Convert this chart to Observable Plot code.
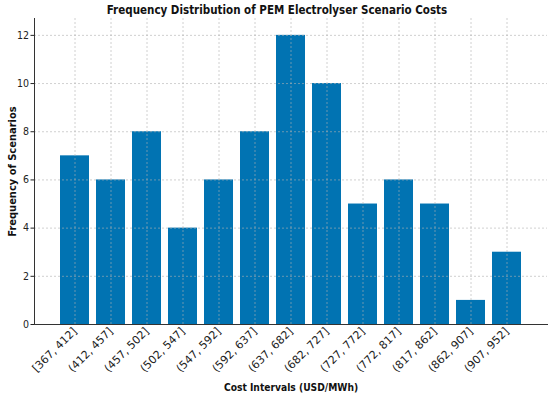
<!DOCTYPE html>
<html><head><meta charset="utf-8">
<script src="https://cdn.jsdelivr.net/npm/d3@7"></script>
<script src="https://cdn.jsdelivr.net/npm/@observablehq/plot@0.6"></script>
<style>
body{margin:0;background:#fff;}
svg{font-family:"DejaVu Sans Condensed","DejaVu Sans",sans-serif;}
</style>
</head><body><div id="chart"></div>
<script>
const intervals = ["[367, 412]","(412, 457]","(457, 502]","(502, 547]","(547, 592]","(592, 637]","(637, 682]","(682, 727]","(727, 772]","(772, 817]","(817, 862]","(862, 907]","(907, 952]"];
const counts = [7,6,8,4,6,8,12,10,5,6,5,1,3];
const yTicks = [0,2,4,6,8,10,12];
const data = intervals.map((k,i)=>({k, v: counts[i]}));

const chart = Plot.plot({
  width: 550, height: 394,
  marginLeft: 34, marginRight: 3, marginTop: 18, marginBottom: 70,
  style: {fontSize: "10px", color: "#222", background: "#fff"},
  x: {type: "band", domain: intervals, paddingInner: 0.2, paddingOuter: 0.64, align: 0.5, label: null},
  y: {domain: [0, 12.7], label: null},
  marks: [
    Plot.barY(data, {x: "k", y: "v", fill: "#0173B2"}),
    Plot.gridX(intervals, {x: d=>d, stroke: "#b0b0b0", strokeOpacity: 0.6, strokeDasharray: "2,2"}),
    Plot.gridY(yTicks, {stroke: "#b0b0b0", strokeOpacity: 0.6, strokeDasharray: "2,2"}),
    Plot.axisY({ticks: yTicks, tickSize: 3.5, tickPadding: 2, label: null, fontSize: 10.5}),
    Plot.axisX({tickSize: 0, tickRotate: -45, tickPadding: 5, label: null, fontSize: 11, fontFamily: "DejaVu Sans"}),
    Plot.frame({anchor: "left", stroke: "#333"}),
    Plot.frame({anchor: "bottom", stroke: "#333"}),
    Plot.text(["Frequency Distribution of PEM Electrolyser Scenario Costs"], {frameAnchor: "top", dx: -14, dy: -13, fontSize: 11.5, fontWeight: "bold", fill: "#111"}),
    Plot.text(["Cost Intervals (USD/MWh)"], {frameAnchor: "bottom", dy: 66, fontSize: 10.2, fontWeight: "bold", fill: "#111"}),
    Plot.text(["Frequency of Scenarios"], {frameAnchor: "left", dx: -22, rotate: -90, textAnchor: "middle", fontSize: 11, fontWeight: "bold", fill: "#111"})
  ]
});
document.getElementById("chart").append(chart);
</script>
</body></html>
